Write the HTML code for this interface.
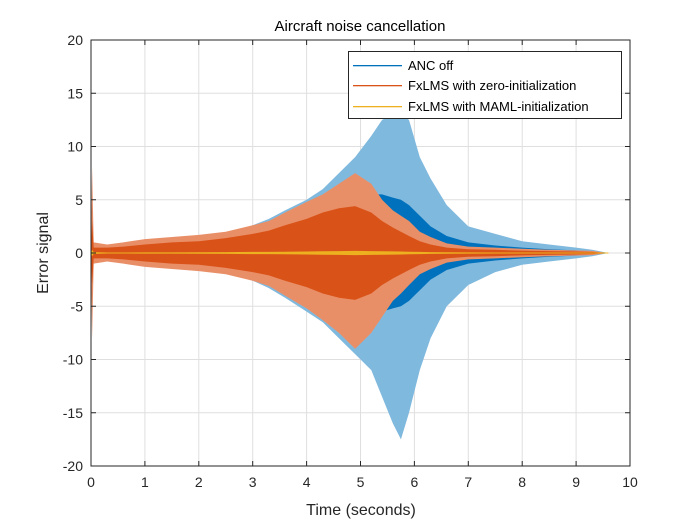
<!DOCTYPE html>
<html><head><meta charset="utf-8"><style>
html,body{margin:0;padding:0;background:#fff;}
svg{display:block;font-family:"Liberation Sans",sans-serif;}
</style></head><body>
<svg id="chart" width="700" height="525" viewBox="0 0 700 525"></svg>
<script>
const xTicks=[0,1,2,3,4,5,6,7,8,9,10];
const yTicks=[-20,-15,-10,-5,0,5,10,15,20];
const times=[0,0.02,0.05,0.3,0.6,1,1.5,2,2.5,3,3.3,3.6,4,4.3,4.6,4.9,5.2,5.4,5.6,5.75,5.9,6.1,6.3,6.6,7,7.5,8,8.5,9,9.3,9.6];
const ancUpper=[0,0.5,0.3,0.4,0.6,0.8,1.0,1.3,1.8,2.6,3.2,4.0,5.0,6.0,7.5,9,11,12.5,13,13,12.5,9,7,4.5,2.5,1.8,1.1,0.8,0.5,0.3,0];
const ancLower=[0,-0.5,-0.3,-0.4,-0.6,-0.8,-1.0,-1.3,-1.8,-2.6,-3.3,-4.2,-5.5,-6.5,-8,-9.5,-11,-13.5,-16,-17.5,-15,-11,-8,-5,-3,-1.8,-1.1,-0.8,-0.5,-0.3,0];
const ancCore=[0,0.2,0.2,0.25,0.35,0.5,0.6,0.8,1.1,1.6,2.0,2.5,3.2,3.8,4.5,5,5.5,5.5,5.2,5,4.5,3.5,2.5,1.6,1.0,0.7,0.5,0.35,0.25,0.15,0];
const zeroUpper=[0,8,1,0.8,1.0,1.3,1.5,1.7,2.0,2.6,3.0,3.8,4.8,5.5,6.5,7.5,6.5,5,4,3.5,3,2,1.5,0.9,0.6,0.5,0.4,0.3,0.25,0.2,0];
const zeroLower=[0,-8,-1,-0.8,-1.0,-1.3,-1.5,-1.7,-2.0,-2.6,-3.1,-4.0,-5.2,-6.3,-7.5,-9,-7.5,-6,-4.5,-3.8,-3,-2,-1.5,-0.9,-0.6,-0.5,-0.4,-0.3,-0.25,-0.2,0];
const zeroCore=[0,3,0.5,0.5,0.6,0.8,1.0,1.1,1.4,1.8,2.1,2.6,3.2,3.8,4.2,4.4,3.8,3.0,2.4,2.0,1.6,1.1,0.8,0.5,0.35,0.3,0.22,0.18,0.14,0.1,0];
const mamlUpper=[0,0.3,0.08,0.05,0.05,0.06,0.06,0.07,0.08,0.1,0.1,0.12,0.14,0.16,0.18,0.2,0.18,0.16,0.15,0.14,0.12,0.1,0.08,0.07,0.06,0.05,0.04,0.04,0.03,0.03,0];

const svg=document.getElementById('chart');
const NS='http://www.w3.org/2000/svg';
const L=91,R=630,T=40,B=466;
const xs=t=>L+(t-0)/(10-0)*(R-L);
const ys=v=>B-(v+20)/40*(B-T);
function mk(tag,attrs,parent){const e=document.createElementNS(NS,tag);for(const k in attrs)e.setAttribute(k,attrs[k]);(parent||svg).appendChild(e);return e;}

const grid=mk('g',{});


xTicks.forEach(t=>{mk('line',{x1:xs(t),x2:xs(t),y1:T,y2:B,stroke:'#dfdfdf','stroke-width':1},grid);});
yTicks.forEach(v=>{mk('line',{x1:L,x2:R,y1:ys(v),y2:ys(v),stroke:'#dfdfdf','stroke-width':1},grid);});

function env(up,lo,color,name){
  let pts=times.map((t,i)=>xs(t)+','+ys(up[i]));
  for(let i=times.length-1;i>=0;i--)pts.push(xs(times[i])+','+ys(lo[i]));
  const p=mk('polygon',{points:pts.join(' '),fill:color,stroke:'none'});
  
  
}
env(ancUpper,ancLower,'#80b9de','series-anc-off-spikes');
env(ancCore,ancCore.map(v=>-v),'#0072bd','series-anc-off');
env(zeroUpper,zeroLower,'#e98f68','series-fxlms-zero-spikes');
env(zeroCore,zeroCore.map(v=>-v),'#d95319','series-fxlms-zero');
env(mamlUpper,mamlUpper.map(v=>-v),'#edb120','series-fxlms-maml');
mk('line',{x1:xs(0.05),x2:xs(9.6),y1:ys(0),y2:ys(0),stroke:'#edb120','stroke-width':1});

const ax=mk('g',{});


mk('rect',{x:L,y:T,width:R-L,height:B-T,fill:'none',stroke:'#262626','stroke-width':1},ax);
xTicks.forEach(t=>{
  mk('line',{x1:xs(t),x2:xs(t),y1:B,y2:B-5,stroke:'#262626'},ax);
  mk('line',{x1:xs(t),x2:xs(t),y1:T,y2:T+5,stroke:'#262626'},ax);
  const tx=mk('text',{x:xs(t),y:B+21,'text-anchor':'middle','font-size':14,fill:'#262626'},ax);
  tx.textContent=t;
  
  
});
yTicks.forEach(v=>{
  mk('line',{x1:L,x2:L+5,y1:ys(v),y2:ys(v),stroke:'#262626'},ax);
  mk('line',{x1:R,x2:R-5,y1:ys(v),y2:ys(v),stroke:'#262626'},ax);
  const tx=mk('text',{x:L-8,y:ys(v)+5,'text-anchor':'end','font-size':14,fill:'#262626'},ax);
  tx.textContent=v;
  
  
});
</script>
<svg width="700" height="525" style="position:absolute;left:0;top:0" font-family="Liberation Sans, sans-serif">
<text x="360" y="31" text-anchor="middle" font-size="15" fill="#000">Aircraft noise cancellation</text>
<text x="361" y="515" text-anchor="middle" font-size="16" fill="#262626">Time (seconds)</text>
<text transform="translate(48,253) rotate(-90)" text-anchor="middle" font-size="16" fill="#262626">Error signal</text>
<g>
<rect x="348.5" y="51.5" width="273" height="67" fill="#fff" stroke="#262626" stroke-width="1"/>
<rect x="353" y="65" width="49" height="1.3" fill="#0072bd"/>
<text x="408" y="70" font-size="13" fill="#000">ANC off</text>
<rect x="353" y="85" width="49" height="1.3" fill="#d95319"/>
<text x="408" y="90" font-size="13" fill="#000">FxLMS with zero-initialization</text>
<rect x="353" y="106" width="49" height="1.3" fill="#edb120"/>
<text x="408" y="111" font-size="13" fill="#000">FxLMS with MAML-initialization</text>
</g>
</svg>
</body></html>
